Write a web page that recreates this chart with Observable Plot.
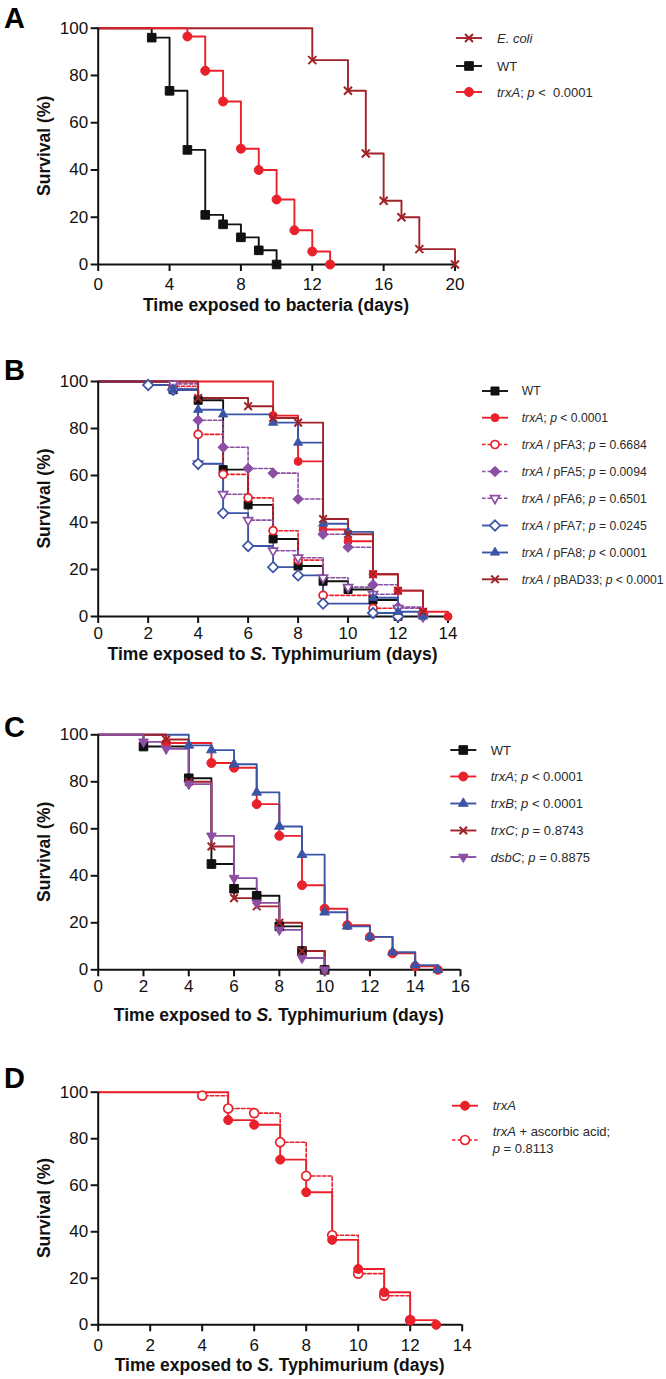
<!DOCTYPE html>
<html><head><meta charset="utf-8">
<script src="https://cdn.jsdelivr.net/npm/d3@7"></script>
<script src="https://cdn.jsdelivr.net/npm/@observablehq/plot@0.6"></script>
<style>
html,body{margin:0;padding:0;background:#fff}
#fig{position:relative;width:666px;height:1379px;overflow:hidden;font-family:Arial,"Liberation Sans",Helvetica,sans-serif}
#fig svg{position:absolute;left:0;margin:0}
</style></head><body><div id="fig"></div>
<script>
// ---------------- DATA (day, survival %) ----------------
// Panel A
const A_ecoli = [[12,86.5],[14,73.5],[15,47],[16,27],[17,20],[18,6.5],[20,0]];
const A_wt    = [[3,96],[4,73.5],[5,48.5],[6,21],[7,17],[8,11.5],[9,6],[10,0]];
const A_trxA  = [[5,96.5],[6,82],[7,69],[8,49],[9,40],[10,27.5],[11,14.5],[12,5.5],[13,0]];
const A_xTicks = [0,4,8,12,16,20];
// Panel B
const B_wt     = [[3,96.5],[4,92],[5,62.5],[6,47.5],[7,33],[8,21.5],[9,15],[10,11.5],[11,7],[12,0]];
const B_trxA   = [[7,85.5],[8,66],[9,37],[10,32],[11,18],[12,11],[13,2],[14,0]];
const B_pFA3   = [[3,98],[4,77.5],[5,60.5],[6,50.5],[7,36.5],[8,24],[9,9],[11,3.5],[12,0]];
const B_pFA5   = [[3,97],[4,83.5],[5,72],[6,63],[7,61],[8,50],[9,35],[10,29.5],[11,13.5],[12,4],[13,0]];
const B_pFA6   = [[3,99],[4,65],[5,52],[6,41],[7,28],[8,25],[9,16.5],[10,12.5],[11,9.5],[12,3.5],[13,0]];
const B_pFA7   = [[2,98.5],[3,96.5],[4,65],[5,44],[6,30],[7,21],[8,17.5],[9,5.5],[11,1.5],[12,0]];
const B_pFA8   = [[3,96.5],[4,88],[5,86],[7,82.5],[8,74],[9,39.5],[10,36],[11,8],[12,2],[13,0]];
const B_pBAD33 = [[4,93],[6,89.5],[7,84.5],[8,82.5],[9,41.5],[10,35],[11,18],[12,11],[13,2]];
const B_xTicks = [0,2,4,6,8,10,12,14];
// Panel C
const C_wt   = [[2,95],[4,81.5],[5,45],[6,34.5],[7,31.5],[8,18.5],[9,8],[10,0]];
const C_trxA = [[3,96.5],[5,88],[6,86],[7,70.5],[8,57],[9,36],[10,26],[11,19],[12,14],[13,7],[14,1.5],[15,0]];
const C_trxB = [[4,95.5],[5,93.5],[6,87.5],[7,75.5],[8,61],[9,49],[10,24.5],[11,18.5],[12,14],[13,7.5],[14,2],[15,0]];
const C_trxC = [[3,98],[4,80],[5,52.5],[6,30.5],[7,27],[8,20],[9,8],[10,0]];
const C_dsbC = [[2,97],[3,94],[4,79],[5,57],[6,39],[7,28.5],[8,17],[9,5],[10,0]];
const C_xTicks = [0,2,4,6,8,10,12,14,16];
// Panel D
const D_trxA = [[5,88],[6,86],[7,71],[8,57],[9,36.5],[10,24],[11,14],[12,2],[13,0]];
const D_asc  = [[4,98.5],[5,93],[6,91],[7,78.5],[8,64],[9,38.5],[10,22],[11,12.5],[12,2]];
const D_xTicks = [0,2,4,6,8,10,12,14];
const yTicks = [0,20,40,60,80,100];

// ---------------- symbols (size -> r = sqrt(size/pi) half extent) ----------------
const rOf = s => Math.sqrt(s/Math.PI);
const SYM = {
  circle:{draw(c,s){const r=rOf(s);c.moveTo(r,0);c.arc(0,0,r,0,2*Math.PI);}},
  square:{draw(c,s){const r=rOf(s);c.rect(-r,-r,2*r,2*r);}},
  diamond:{draw(c,s){const h=rOf(s)*1.3;c.moveTo(0,-h);c.lineTo(h,0);c.lineTo(0,h);c.lineTo(-h,0);c.closePath();}},
  triUp:{draw(c,s){const R=rOf(s)*1.3;c.moveTo(0,-R);c.lineTo(R*0.866,R*0.5);c.lineTo(-R*0.866,R*0.5);c.closePath();}},
  triDown:{draw(c,s){const R=rOf(s)*1.3;c.moveTo(0,R);c.lineTo(R*0.866,-R*0.5);c.lineTo(-R*0.866,-R*0.5);c.closePath();}},
  times:{draw(c,s){const h=rOf(s);c.moveTo(-h,-h);c.lineTo(h,h);c.moveTo(h,-h);c.lineTo(-h,h);}}
};
const COL = {black:"#111111", red:"#e8212b", dark:"#a0232a", blue:"#3b55a6", purple:"#8b4fa3"};

// ---------------- panel configs ----------------
const panels = [
 {letter:"A", letterBase:28, top:0, height:330, x1:454.5, yTop:27.7, yBot:264, xMax:20, xTicks:A_xTicks, tickPad:6, xTitle:["Time exposed to bacteria (days)"], xTitleBase:311, legFont:13,
  series:[
   {data:A_ecoli, color:COL.dark, sym:"times", r:4, label:"<i>E. coli</i>"},
   {data:A_wt, color:COL.black, sym:"square", r:4.3, label:"WT"},
   {data:A_trxA, color:COL.red, sym:"circle", r:4.5, label:"<i>trxA</i>; <i>p</i> <\u00a0 0.0001"}],
  legend:{mx:469, tx:497, rows:[38,66,92]}},
 {letter:"B", letterBase:380, top:340, height:340, x1:447.5, yTop:381, yBot:616, xMax:14, xTicks:B_xTicks, tickPad:3.5, xTitle:["Time exposed to ","S.", " Typhimurium (days)"], xTitleBase:660, legFont:12.2,
  series:[
   {data:B_wt, color:COL.black, sym:"square", r:4, label:"WT"},
   {data:B_trxA, color:COL.red, sym:"circle", r:4, label:"<i>trxA</i>; <i>p</i> < 0.0001"},
   {data:B_pFA3, color:COL.red, sym:"circle", r:4, open:true, dashed:true, label:"<i>trxA</i> / pFA3; <i>p</i> = 0.6684"},
   {data:B_pFA5, color:COL.purple, sym:"diamond", r:4, dashed:true, label:"<i>trxA</i> / pFA5; <i>p</i> = 0.0094"},
   {data:B_pFA6, color:COL.purple, sym:"triDown", r:4, open:true, dashed:true, label:"<i>trxA</i> / pFA6; <i>p</i> = 0.6501"},
   {data:B_pFA7, color:COL.blue, sym:"diamond", r:4, open:true, label:"<i>trxA</i> / pFA7; <i>p</i> = 0.0245"},
   {data:B_pFA8, color:COL.blue, sym:"triUp", r:4, label:"<i>trxA</i> / pFA8; <i>p</i> < 0.0001"},
   {data:B_pBAD33, color:COL.dark, sym:"times", r:3.8, label:"<i>trxA</i> / pBAD33; <i>p</i> < 0.0001"}],
  legend:{mx:495, tx:521.7, rows:[391,417.7,444.5,471.5,498.3,525.5,552.5,579.3]}},
 {letter:"C", letterBase:737, top:690, height:345, x1:460, yTop:734.3, yBot:969.3, xMax:16, xTicks:C_xTicks, tickPad:3, xTitle:["Time exposed to ","S.", " Typhimurium (days)"], xTitleBase:1021, legFont:13,
  series:[
   {data:C_wt, color:COL.black, sym:"square", r:4.3, label:"WT"},
   {data:C_trxA, color:COL.red, sym:"circle", r:4.5, label:"<i>trxA</i>; <i>p</i> < 0.0001"},
   {data:C_trxB, color:COL.blue, sym:"triUp", r:4.3, label:"<i>trxB</i>; <i>p</i> < 0.0001"},
   {data:C_trxC, color:COL.dark, sym:"times", r:3.8, label:"<i>trxC</i>; <i>p</i> = 0.8743"},
   {data:C_dsbC, color:COL.purple, sym:"triDown", r:4.3, label:"<i>dsbC</i>; <i>p</i> = 0.8875"}],
  legend:{mx:463.3, tx:490.7, rows:[750,776.5,803.5,830.5,857]}},
 {letter:"D", letterBase:1088, top:1040, height:339, x1:461.7, yTop:1091.7, yBot:1324.3, xMax:14, xTicks:D_xTicks, tickPad:7, xTitle:["Time exposed to ","S.", " Typhimurium (days)"], xTitleBase:1371, legFont:13,
  series:[
   {data:D_asc, color:COL.red, sym:"circle", r:4.5, open:true, dashed:true, label:"<i>trxA</i> + ascorbic acid;|<i>p</i> = 0.8113"},
   {data:D_trxA, color:COL.red, sym:"circle", r:4.5, label:"<i>trxA</i>"}],
  legendOrder:[1,0],
  legend:{mx:465, tx:492.7, rows:[1105.7,1140]}}
];

const fig = document.getElementById("fig");
const FONT = 'Arial, "Liberation Sans", Helvetica, sans-serif';

for (const p of panels) {
  const lineMarks = [], dotMarks = [];
  for (const s of p.series) {
    const pts = [{day:0, surv:100}, ...s.data.map(([d,v]) => ({day:d, surv:v}))];
    lineMarks.push(Plot.line(pts, {x:"day", y:"surv", curve:"step-after", stroke:s.color,
      strokeWidth: s.dashed ? 1.6 : 1.9, strokeDasharray: s.dashed ? "3.5,2" : null}));
  }
  for (const s of p.series) {
    const pts = s.data.map(([d,v]) => ({day:d, surv:v}));
    const isX = s.sym === "times";
    dotMarks.push(Plot.dot(pts, {x:"day", y:"surv", symbol:SYM[s.sym], r:s.r,
      fill: isX ? "none" : (s.open ? "white" : s.color), stroke:s.color,
      strokeWidth: isX ? 2 : (s.open ? 1.7 : 1)}));
  }
  const chart = Plot.plot({
    width:666, height:p.height,
    marginLeft:97.7, marginRight:666 - p.x1,
    marginTop:p.yTop - p.top, marginBottom:p.top + p.height - p.yBot,
    x:{domain:[0,p.xMax]}, y:{domain:[0,100]},
    style:{fontFamily:FONT, fontSize:"17px", color:"#111", background:"transparent", overflow:"visible"},
    marks:[
      Plot.axisX({ticks:p.xTicks, tickSize:7, tickPadding:p.tickPad, strokeWidth:2, label:null, fontSize:17}),
      Plot.axisY({ticks:yTicks, tickSize:7, tickPadding:3, strokeWidth:2, label:null, fontSize:17}),
      ...lineMarks,
      Plot.ruleX([0], {strokeWidth:2, stroke:"#111"}),
      Plot.ruleY([0], {strokeWidth:2, stroke:"#111"}),
      ...dotMarks
    ]
  });
  chart.style.top = p.top + "px";
  fig.appendChild(chart);
}

// ---------------- overlay: letters, axis titles, legends ----------------
const ov = d3.create("svg").attr("width",666).attr("height",1379)
  .style("position","absolute").style("left","0px").style("top","0px")
  .attr("font-family", FONT);

function richText(sel, str) {
  const parts = str.split(/<i>(.*?)<\/i>/);
  parts.forEach((t,i) => { if (t) sel.append("tspan").attr("font-style", i%2 ? "italic" : "normal").text(t); });
}

for (const p of panels) {
  ov.append("text").attr("x",4).attr("y",p.letterBase).attr("font-size",29).attr("font-weight","bold").attr("fill","#000").text(p.letter);
  const midY = (p.yTop + p.yBot)/2;
  ov.append("text").attr("transform",`translate(50,${midY}) rotate(-90)`).attr("text-anchor","middle")
    .attr("font-size",17.5).attr("font-weight","bold").attr("fill","#111").text("Survival (%)");
  const xt = ov.append("text").attr("x",(97.7+p.x1)/2).attr("y",p.xTitleBase).attr("text-anchor","middle")
    .attr("font-size",17.5).attr("font-weight","bold").attr("fill","#111");
  p.xTitle.forEach((t,i) => xt.append("tspan").attr("font-style", i===1 ? "italic" : "normal").text(t));
  // legend
  const order = p.legendOrder || p.series.map((_,i) => i);
  order.forEach((si,i) => {
    const s = p.series[si];
    const y = p.legend.rows[i], mx = p.legend.mx;
    const g = ov.append("g");
    g.append("line").attr("x1",mx-13).attr("x2",mx+13).attr("y1",y).attr("y2",y)
      .attr("stroke",s.color).attr("stroke-width", s.dashed?1.6:1.9).attr("stroke-dasharray", s.dashed?"3.5,2":null);
    const isX = s.sym === "times";
    g.append("path").attr("transform",`translate(${mx},${y})`)
      .attr("d", d3.symbol().type(SYM[s.sym]).size(Math.PI*s.r*s.r)())
      .attr("fill", isX ? "none" : (s.open ? "white" : s.color)).attr("stroke", s.color)
      .attr("stroke-width", isX ? 2 : (s.open ? 1.7 : 1));
    const lines = s.label.split("|");
    const fs = p.legFont, lh = 16.3;
    lines.forEach((ln, k) => {
      const ty = y + fs*0.35 + (lines.length > 1 ? (k - (lines.length-1)/2) * lh : 0);
      const t = g.append("text").attr("x",p.legend.tx).attr("y",ty).attr("font-size",fs).attr("fill","#2a2a2a");
      richText(t, ln);
    });
  });
}
fig.appendChild(ov.node());
</script></body></html>
